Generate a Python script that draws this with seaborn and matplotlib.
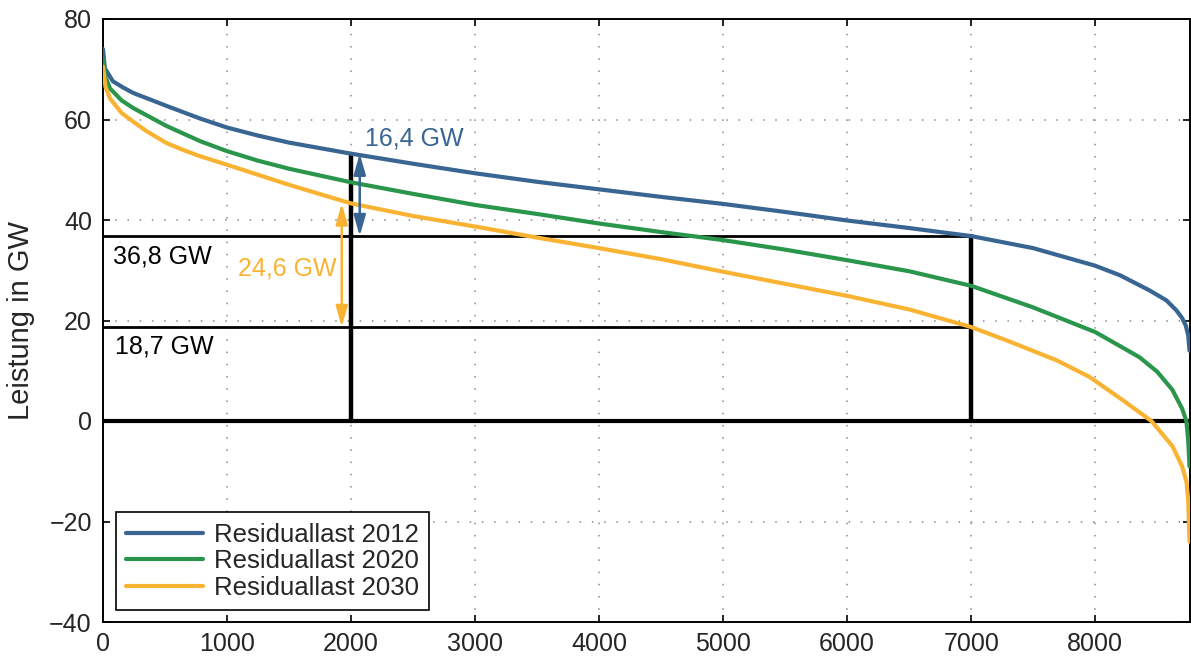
import numpy as np
import pandas as pd
import matplotlib
matplotlib.use("Agg")
import matplotlib.pyplot as plt
import seaborn as sns

# ---- data ----
hours_2012 = [0, 15, 80, 160, 242, 513, 782, 1000, 1250, 1500, 2000, 2500, 3000, 3500,
              4000, 4500, 5000, 5500, 6000, 6500, 7000, 7500, 8000, 8200, 8437, 8574,
              8655, 8700, 8730, 8750, 8760]
load_2012 = [74.0, 70.2, 67.6, 66.4, 65.3, 62.7, 60.2, 58.4, 56.8, 55.4, 53.2, 51.2, 49.3,
             47.6, 46.1, 44.6, 43.2, 41.6, 39.9, 38.4, 36.8, 34.4, 30.9, 29.0, 26.0, 24.0,
             22.0, 20.5, 19.0, 17.0, 14.0]

hours_2020 = [0, 20, 56, 150, 242, 513, 782, 1000, 1250, 1500, 2000, 2500, 3000, 3500,
              4000, 4500, 5000, 5500, 6000, 6500, 7000, 7500, 8000, 8200, 8356, 8500,
              8622, 8700, 8735, 8750, 8760]
load_2020 = [72.0, 68.5, 66.2, 63.8, 62.3, 58.7, 55.7, 53.7, 51.8, 50.2, 47.5, 45.2, 43.0,
             41.2, 39.3, 37.6, 36.0, 34.1, 32.0, 29.8, 26.9, 22.6, 17.7, 14.9, 12.7, 9.8,
             6.2, 2.5, 0.0, -4.0, -9.0]

hours_2030 = [0, 20, 56, 150, 242, 350, 513, 650, 782, 1000, 1250, 1500, 2000, 2500, 3000,
              3500, 4000, 4500, 5000, 5500, 6000, 6500, 7000, 7300, 7687, 7952, 8219,
              8453, 8622, 8700, 8735, 8750, 8760]
load_2030 = [70.5, 66.5, 64.2, 61.3, 59.6, 57.7, 55.3, 53.9, 52.7, 51.0, 49.0, 47.0, 43.3,
             40.8, 38.7, 36.5, 34.4, 32.2, 29.7, 27.3, 24.9, 22.2, 18.7, 15.9, 12.1, 8.8,
             4.2, 0.0, -5.0, -9.0, -12.0, -16.0, -24.0]

series_names = ["Residuallast 2012", "Residuallast 2020", "Residuallast 2030"]
series_colors = ["#386592", "#29964B", "#F9B332"]

marker_hours = [2000, 7000]
level_high = 36.8
level_low = 18.7
top_2000 = 53.2
top_2000_2030 = 43.3
diff_2012 = "16,4 GW"
diff_2030 = "24,6 GW"
label_high = "36,8 GW"
label_low = "18,7 GW"

x_ticks = [0, 1000, 2000, 3000, 4000, 5000, 6000, 7000, 8000]
y_ticks = [-40, -20, 0, 20, 40, 60, 80]

# ---- build long table ----
frames = []
for name, h, v in zip(series_names, [hours_2012, hours_2020, hours_2030],
                      [load_2012, load_2020, load_2030]):
    frames.append(pd.DataFrame({"Stunden": h, "Leistung": v, "Serie": name}))
df = pd.concat(frames, ignore_index=True)

sns.set_theme(style="white")
plt.rcParams["font.family"] = ["Liberation Sans", "DejaVu Sans"]
plt.rcParams["axes.unicode_minus"] = True

FS = 18

fig = plt.figure(figsize=(11.91, 6.59), dpi=100)
ax = fig.add_axes([103 / 1191, 1 - 622 / 659, 1086.5 / 1191, (622 - 19) / 659])

# grid
ax.set_axisbelow(True)
ax.grid(True, color="#8a8a8a", linestyle=(0, (1, 7)), linewidth=1.1)

# reference lines
ax.plot([0, 8760], [0, 0], color="black", lw=3.0, zorder=2)
ax.plot([0, marker_hours[1]], [level_high, level_high], color="black", lw=2.0, zorder=2)
ax.plot([0, marker_hours[1]], [level_low, level_low], color="black", lw=2.0, zorder=2)
ax.plot([marker_hours[0], marker_hours[0]], [0, top_2000], color="black", lw=3.2, zorder=2)
ax.plot([marker_hours[1], marker_hours[1]], [0, level_high], color="black", lw=3.2, zorder=2)

sns.lineplot(data=df, x="Stunden", y="Leistung", hue="Serie", hue_order=series_names,
             palette=series_colors, linewidth=3.0, estimator=None, sort=True, ax=ax,
             zorder=3)

# arrows
arrow_style = matplotlib.patches.ArrowStyle("<|-|>", head_length=0.7, head_width=0.2)
ax.annotate("", xy=(2070, top_2000), xytext=(2070, level_high),
            arrowprops=dict(arrowstyle=arrow_style, color=series_colors[0], lw=1.8,
                            mutation_scale=18, shrinkA=0, shrinkB=0), zorder=4)
ax.annotate("", xy=(1925, top_2000_2030), xytext=(1925, level_low),
            arrowprops=dict(arrowstyle=arrow_style, color=series_colors[2], lw=1.8,
                            mutation_scale=18, shrinkA=0, shrinkB=0), zorder=4)

# texts
ax.text(2111, 56.3, diff_2012, color=series_colors[0], fontsize=FS, ha="left", va="center")
ax.text(1886, 30.4, diff_2030, color=series_colors[2], fontsize=FS, ha="right", va="center")
ax.text(81, 32.8, label_high, color="black", fontsize=FS, ha="left", va="center")
ax.text(95, 14.9, label_low, color="black", fontsize=FS, ha="left", va="center")

# axes
ax.set_xlim(0, 8760)
ax.set_ylim(-40, 80)
ax.set_xticks(x_ticks)
ax.set_yticks(y_ticks)
ax.set_xlabel("")
ax.set_ylabel("Leistung in GW", fontsize=21)
ax.yaxis.set_label_coords(-0.063, 0.5)
ax.tick_params(axis="both", direction="in", length=5, width=1.2, color="black",
               labelsize=FS, top=True, right=True, bottom=True, left=True)
ax.tick_params(axis="y", pad=8)
ax.tick_params(axis="x", pad=7)
for s in ax.spines.values():
    s.set_visible(True)
    s.set_color("black")
    s.set_linewidth(1.4)

leg = ax.legend(loc="lower left", bbox_to_anchor=(0.012, 0.02), borderaxespad=0,
                fontsize=18.5, frameon=True, fancybox=False, edgecolor="black",
                framealpha=1, handlelength=3.0, handletextpad=0.4,
                labelspacing=0.1, borderpad=0.4, title=None)
leg.get_frame().set_linewidth(1.2)
for line in leg.get_lines():
    line.set_linewidth(3.0)

fig.savefig("out.png", dpi=100)
